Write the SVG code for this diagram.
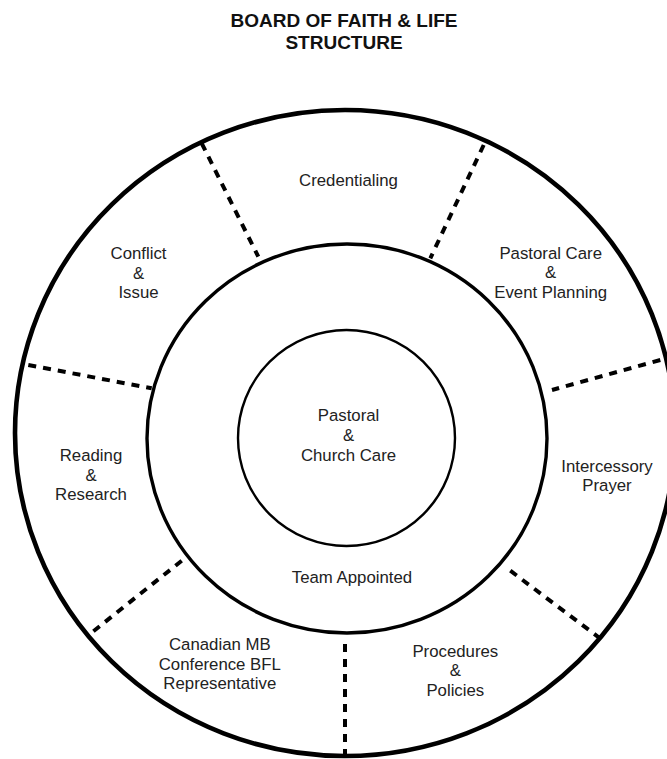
<svg xmlns="http://www.w3.org/2000/svg" width="667" height="759" viewBox="0 0 667 759">
<style>
.title{font-family:"Liberation Sans",Arial,sans-serif;font-weight:bold;font-size:19px;fill:#111;text-anchor:middle}
.lbl{font-family:"Liberation Sans",Arial,sans-serif;font-size:16.8px;fill:#222;text-anchor:middle}
.ring{fill:none;stroke:#000}
.div{stroke:#000;stroke-width:4;stroke-dasharray:8 7;fill:none}
</style>
<rect width="667" height="759" fill="#fff"/>
<g id="title">
<text class="title" x="344" y="26.5">BOARD OF FAITH &amp; LIFE</text>
<text class="title" x="344" y="48.5">STRUCTURE</text>
</g>
<g id="outer-ring">
<ellipse class="ring" cx="345" cy="433" rx="330" ry="323" stroke-width="4.6"/>
</g>
<g id="team-appointed">
<ellipse class="ring" cx="347" cy="438.5" rx="200" ry="194.5" stroke-width="3.4"/>
<text class="lbl" x="352" y="583">Team Appointed</text>
</g>
<g id="pastoral-church-care">
<ellipse class="ring" cx="346.5" cy="438" rx="108.5" ry="108" stroke-width="2.4"/>
<text class="lbl" x="348.5" y="421">Pastoral</text>
<text class="lbl" x="348.5" y="440.7">&amp;</text>
<text class="lbl" x="348.5" y="460.7">Church Care</text>
</g>
<g id="connectors">
<line class="div" x1="201.7" y1="143.3" x2="258.3" y2="256.7"/>
<line class="div" x1="28.3" y1="365" x2="151.7" y2="388.3"/>
<line class="div" x1="483.7" y1="145" x2="430.3" y2="258.3"/>
<line class="div" x1="660.3" y1="360" x2="552" y2="390"/>
<line class="div" x1="181.7" y1="560.7" x2="90" y2="634"/>
<line class="div" x1="510.3" y1="570.7" x2="598.7" y2="637.3"/>
<line class="div" x1="345" y1="644" x2="345" y2="759"/>
</g>
<g id="credentialing">
<text class="lbl" x="348.5" y="186">Credentialing</text>
</g>
<g id="conflict-issue">
<text class="lbl" x="138.5" y="259.3">Conflict</text>
<text class="lbl" x="138.5" y="278.5">&amp;</text>
<text class="lbl" x="138.5" y="298.3">Issue</text>
</g>
<g id="pastoral-care-event-planning">
<text class="lbl" x="550.7" y="259">Pastoral Care</text>
<text class="lbl" x="550.7" y="278.3">&amp;</text>
<text class="lbl" x="550.7" y="297.7">Event Planning</text>
</g>
<g id="reading-research">
<text class="lbl" x="91" y="461.3">Reading</text>
<text class="lbl" x="91" y="480.7">&amp;</text>
<text class="lbl" x="91" y="500">Research</text>
</g>
<g id="intercessory-prayer">
<text class="lbl" x="607" y="472.3">Intercessory</text>
<text class="lbl" x="607" y="490.7">Prayer</text>
</g>
<g id="canadian-mb-bfl-representative">
<text class="lbl" x="219.8" y="650">Canadian MB</text>
<text class="lbl" x="219.8" y="669.7">Conference BFL</text>
<text class="lbl" x="219.8" y="689">Representative</text>
</g>
<g id="procedures-policies">
<text class="lbl" x="455.3" y="656.7">Procedures</text>
<text class="lbl" x="455.3" y="676.3">&amp;</text>
<text class="lbl" x="455.3" y="695.7">Policies</text>
</g>
</svg>
